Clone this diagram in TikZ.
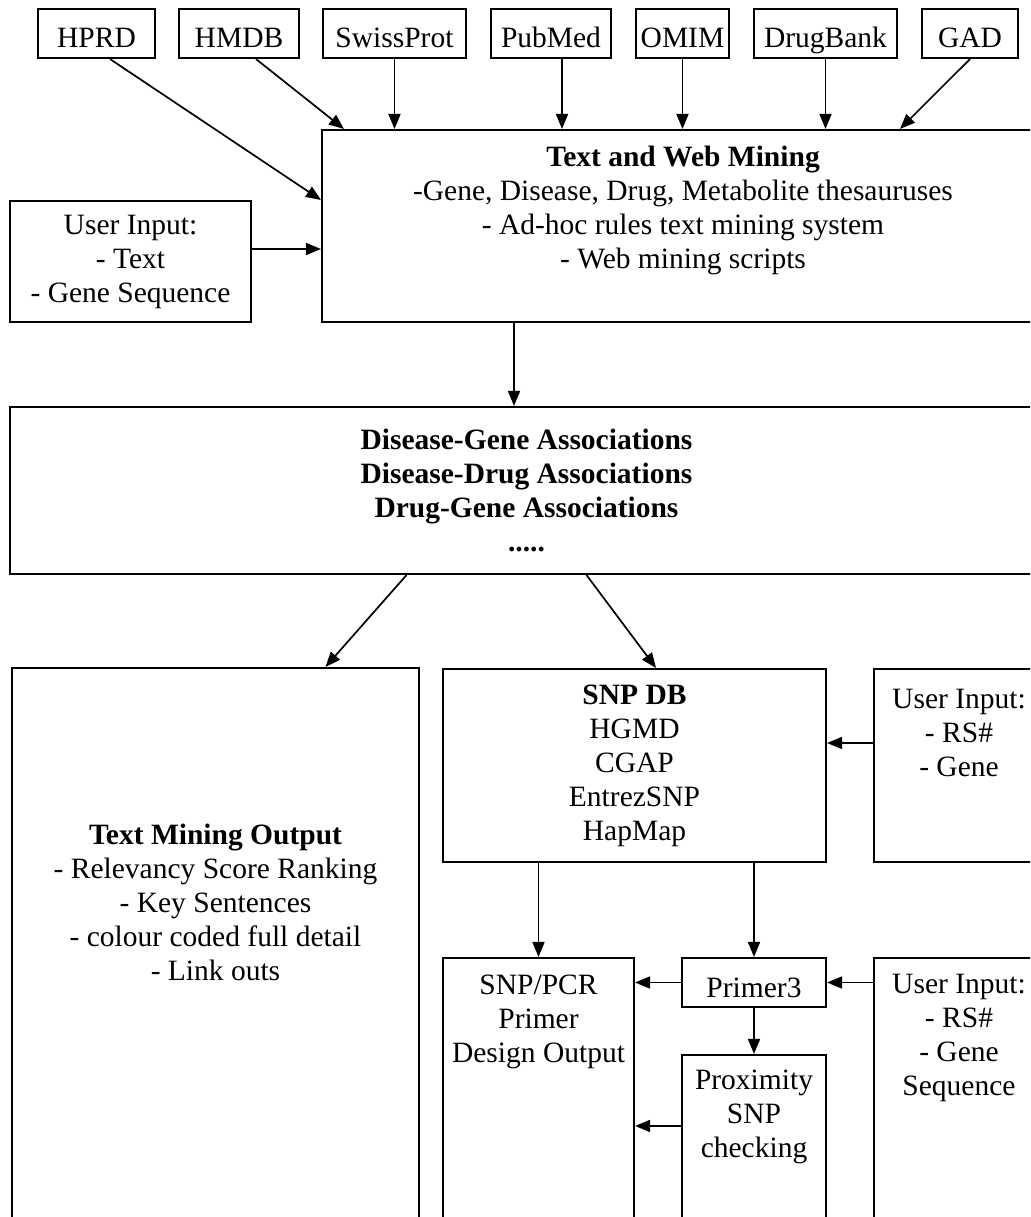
\documentclass[tikz,border=0pt]{standalone}
\usepackage{fontspec}
\setmainfont{Liberation Serif}
\usetikzlibrary{arrows.meta}

\begin{document}
\begin{tikzpicture}[
    x=1pt, y=-1pt,
    font=\fontsize{29.5}{34}\selectfont,
    >={Triangle[length=15pt, width=12pt]},
    blk/.style={draw, line width=2.1pt, inner sep=0pt, align=center},
    srcbox/.style={blk, minimum height=49, text height=30pt, text depth=1pt},
    flow/.style={->, line width=1.7pt},
]

%------------------------------------------------------------
% page frame (boxes on the right / bottom run off the page)
%------------------------------------------------------------
\useasboundingbox (0,0) rectangle (1030,1217);
\clip (0,0) rectangle (1030,1217);

%============================================================
%  SOURCES + MINING
%============================================================
% --- source databases along the top: name/label/left/right ---
\foreach \nm/\lbl/\xa/\xb in {hprd/HPRD/38/155, hmdb/HMDB/179/299,
    swiss/SwissProt/323/466, pubmed/PubMed/491/611, omim/OMIM/636/729,
    drugbank/DrugBank/754/897, gad/GAD/922/1018}{
    \pgfmathsetmacro\bw{\xb-\xa}
    \pgfmathsetmacro\bx{(\xa+\xb)/2}
    \node[srcbox, minimum width=\bw] (\nm) at (\bx,33.5) {\lbl};
}

% mining engine
\node[blk, minimum width=722, minimum height=192] (twm) at (683,226) {};
\node[align=center] (twmtxt) at (683,210)
    {\textbf{Text and Web Mining}\\-Gene, Disease, Drug, Metabolite thesauruses\\- Ad-hoc rules text mining system\\- Web mining scripts};

\node[blk, minimum width=241, minimum height=121] (usertxt) at (130.5,261.5)
    {User Input:\\- Text\\- Gene Sequence};

% --- feeds into the mining box ---
\draw[flow] ([xshift=13.5pt]hprd.south) -- ([yshift=26pt]twm.west);
\draw[flow] ([xshift=17pt]hmdb.south) -- ([xshift=23pt]twm.north west);
\foreach \nm in {swiss, omim, drugbank}
    \draw[flow] (\nm.south) -- (\nm.south |- twm.north);
\draw[flow] ([xshift=11pt]pubmed.south) -- ([xshift=11pt]pubmed.south |- twm.north);
\draw[flow] (gad.south) -- ([xshift=217pt]twm.north);
\draw[flow] ([yshift=12.5pt]usertxt.east) -- ([yshift=12.5pt]usertxt.east -| twm.west);

%============================================================
%  ASSOCIATIONS
%============================================================
\node[blk, minimum width=1033, minimum height=167] (assoc) at (526.5,490.5)
    {\textbf{Disease-Gene Associations}\\\textbf{Disease-Drug Associations}\\\textbf{Drug-Gene Associations}\\\textbf{.....}};

\draw[flow] ([xshift=-169pt]twm.south) -- ([xshift=-169pt]twm.south |- assoc.north);

%============================================================
%  OUTPUTS
%============================================================
% text mining branch
\node[blk, minimum width=407, minimum height=572] (tmout) at (215.5,954) {};
\node[align=center] (tmouttxt) at (215.5,902)
    {\textbf{Text Mining Output}\\- Relevancy Score Ranking\\- Key Sentences\\- colour coded full detail\\- Link outs};

% SNP branch
\node[blk, minimum width=383, minimum height=193] (snpdb) at (634.5,765.5)
    {\textbf{SNP DB}\\HGMD\\CGAP\\EntrezSNP\\HapMap};

\node[blk, minimum width=170, minimum height=193] (rsbox) at (959,765.5) {};
\node[align=center] (rstxt) at (959,733) {User Input:\\- RS\#\\- Gene};

\node[blk, minimum width=191, minimum height=282] (pcrout) at (538.5,1099) {};
\node[align=center] (pcrtxt) at (538.5,1022) {SNP/PCR\\Primer\\Design Output};

\node[srcbox, minimum width=144] (primer) at (754,982.5) {Primer3};

\node[blk, minimum width=144, minimum height=185] (prox) at (754,1147.5) {};
\node[align=center] (proxtxt) at (754,1117) {Proximity\\SNP\\checking};

\node[blk, minimum width=170, minimum height=282] (seqbox) at (959,1099) {};
\node[align=center] (seqtxt) at (959,1038) {User Input:\\- RS\#\\- Gene\\Sequence};

% --- connectors ---
\draw[flow] ([xshift=-120pt]assoc.south) -- ([xshift=110pt]tmout.north);
\draw[flow] ([xshift=60pt]assoc.south) -- ([xshift=21.5pt]snpdb.north);
\draw[flow] ([yshift=22.5pt]rsbox.west) -- ([yshift=22.5pt]rsbox.west -| snpdb.east);
\draw[flow] (pcrout.north |- snpdb.south) -- (pcrout.north);
\draw[flow] (primer.north |- snpdb.south) -- (primer.north);
\draw[flow] (primer.west) -- (primer.west -| pcrout.east);
\draw[flow] (primer.east -| seqbox.west) -- (primer.east);
\draw[flow] (primer.south) -- (prox.north);
\draw[flow] ([yshift=-72pt]prox.north west) -- ([yshift=-72pt]prox.north west -| pcrout.east);

\end{tikzpicture}
\end{document}
